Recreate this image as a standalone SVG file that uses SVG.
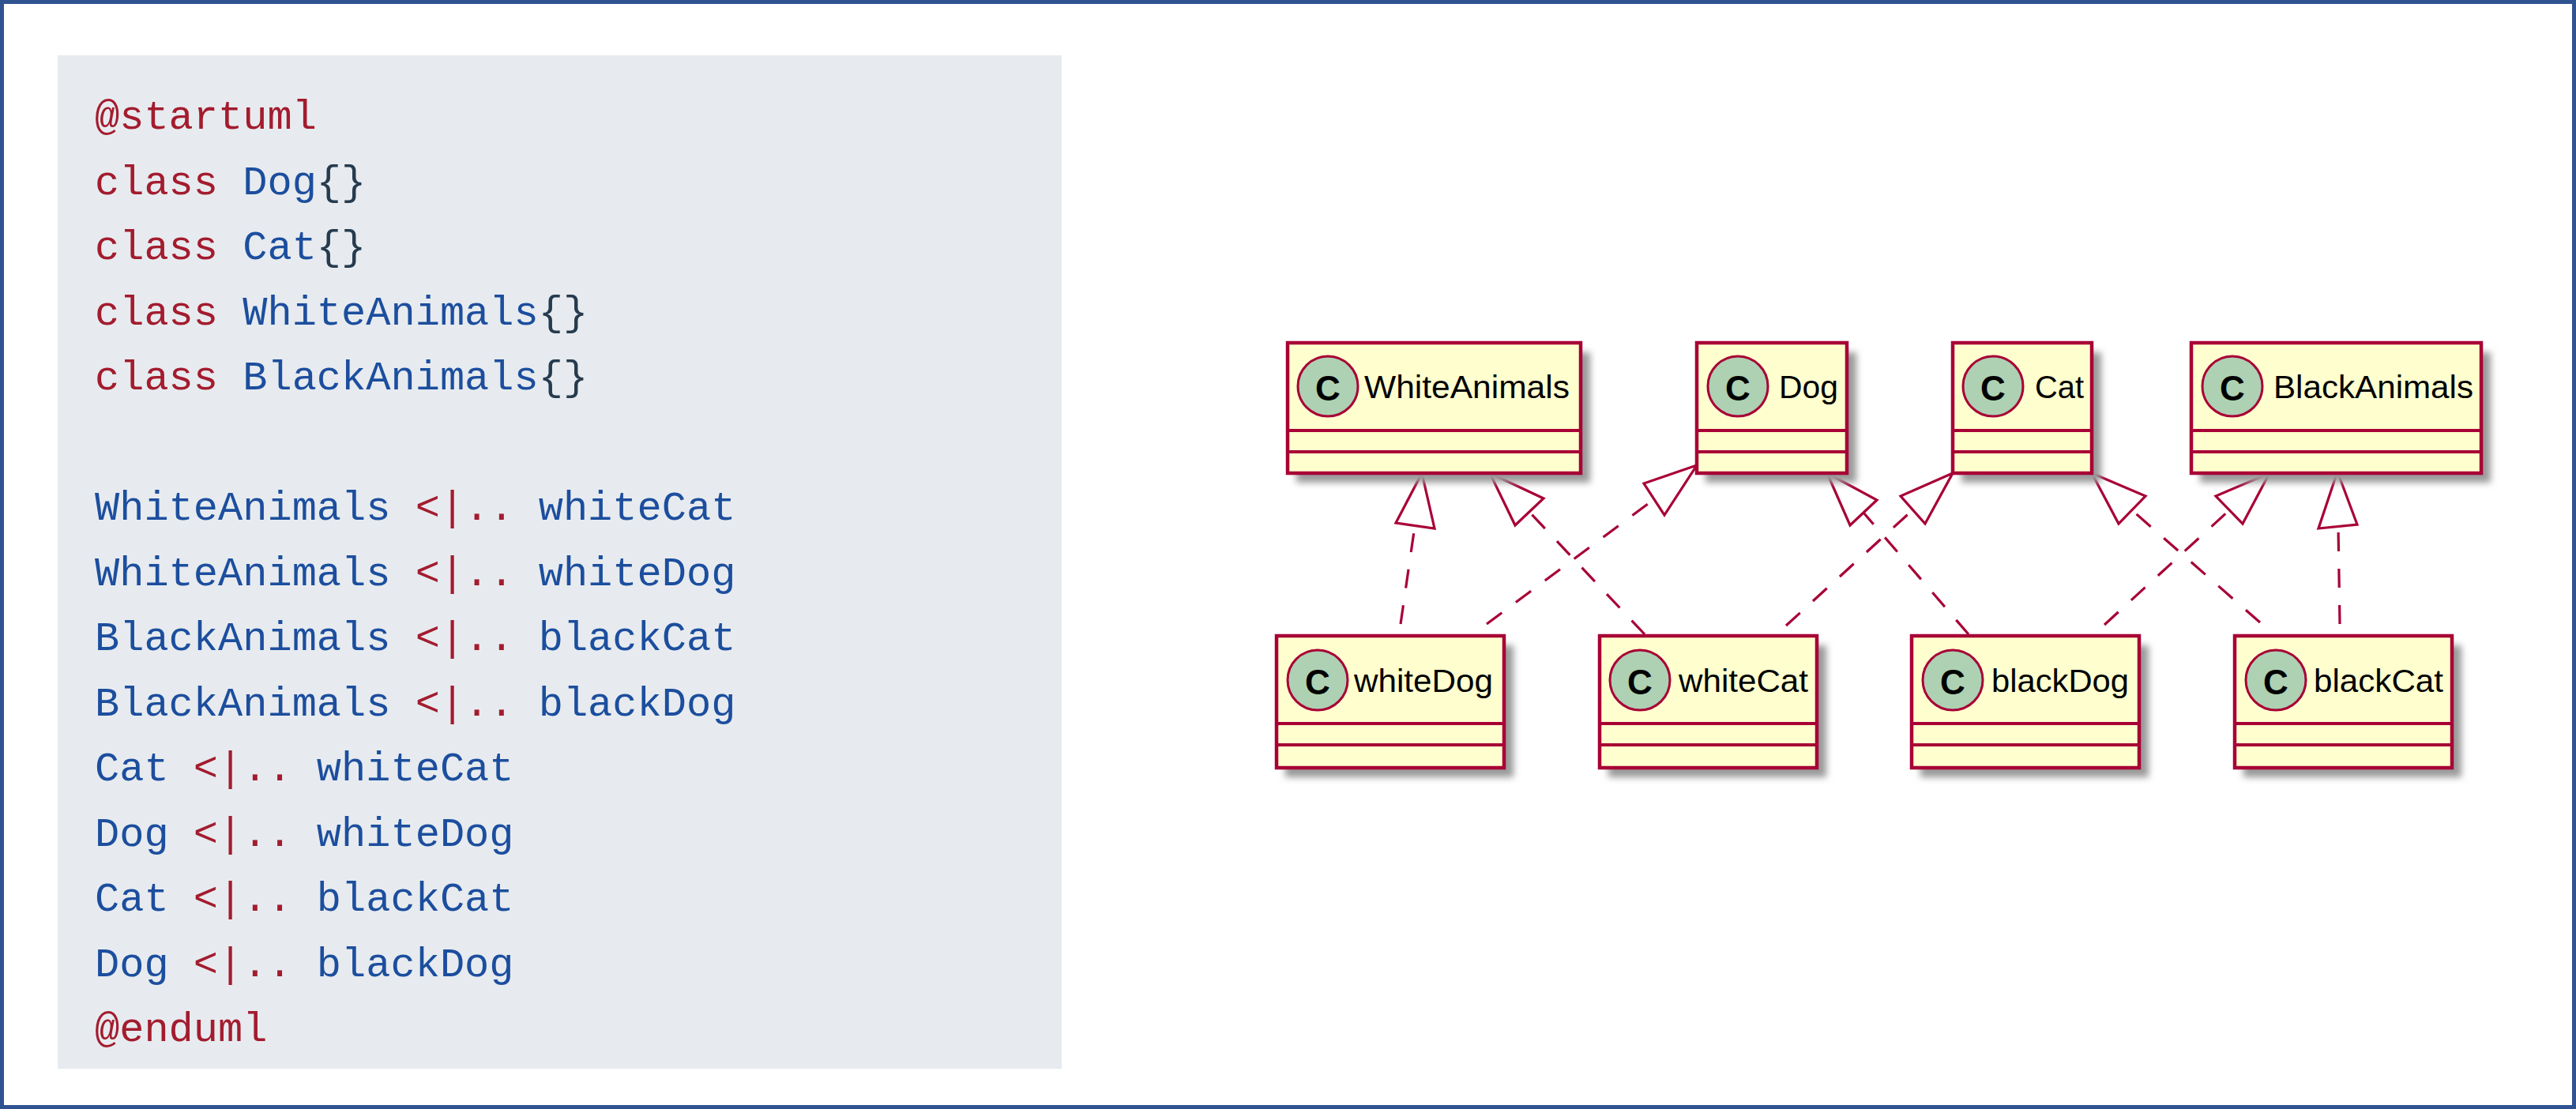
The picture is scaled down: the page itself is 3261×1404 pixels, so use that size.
<svg xmlns="http://www.w3.org/2000/svg" width="3261" height="1404" viewBox="0 0 3261 1404">
<style>
.code{font-family:"Liberation Mono",monospace;font-size:52px;white-space:pre}
.k{fill:#A31C2E}.n{fill:#1C4E9E}.p{fill:#263B4E}
.box{fill:#FEFECE;stroke:#A80036;stroke-width:4.5}
.div{stroke:#A80036;stroke-width:4}
.sh{fill:#9A9A9A;filter:url(#blur)}
.circ{fill:#ADD1B2;stroke:#A80036;stroke-width:3}
.c{font-family:"Liberation Sans",sans-serif;font-weight:bold;font-size:44px;text-anchor:middle;fill:#000}
.lab{font-family:"Liberation Sans",sans-serif;font-size:40px;fill:#000}
.dash{stroke:#A80036;stroke-width:3.2;stroke-dasharray:24 22;fill:none}
.head{fill:#fff;stroke:#A80036;stroke-width:3.2;stroke-linejoin:miter}
</style>
<defs><filter id="blur" x="-20%" y="-20%" width="140%" height="140%"><feGaussianBlur stdDeviation="4"/></filter></defs>
<rect x="2.5" y="2.5" width="3256" height="1399" fill="#fff" stroke="#2F5390" stroke-width="5"/>
<rect x="73" y="70" width="1271" height="1283" fill="#E7EBEF"/>
<g id="code">
<text class="code" x="120" y="163"><tspan class="k">@startuml</tspan></text>
<text class="code" x="120" y="246"><tspan class="k">class </tspan><tspan class="n">Dog</tspan><tspan class="p">{}</tspan></text>
<text class="code" x="120" y="328"><tspan class="k">class </tspan><tspan class="n">Cat</tspan><tspan class="p">{}</tspan></text>
<text class="code" x="120" y="411"><tspan class="k">class </tspan><tspan class="n">WhiteAnimals</tspan><tspan class="p">{}</tspan></text>
<text class="code" x="120" y="493"><tspan class="k">class </tspan><tspan class="n">BlackAnimals</tspan><tspan class="p">{}</tspan></text>
<text class="code" x="120" y="658"><tspan class="n">WhiteAnimals </tspan><tspan class="k">&lt;|.. </tspan><tspan class="n">whiteCat</tspan></text>
<text class="code" x="120" y="741"><tspan class="n">WhiteAnimals </tspan><tspan class="k">&lt;|.. </tspan><tspan class="n">whiteDog</tspan></text>
<text class="code" x="120" y="823"><tspan class="n">BlackAnimals </tspan><tspan class="k">&lt;|.. </tspan><tspan class="n">blackCat</tspan></text>
<text class="code" x="120" y="906"><tspan class="n">BlackAnimals </tspan><tspan class="k">&lt;|.. </tspan><tspan class="n">blackDog</tspan></text>
<text class="code" x="120" y="988"><tspan class="n">Cat </tspan><tspan class="k">&lt;|.. </tspan><tspan class="n">whiteCat</tspan></text>
<text class="code" x="120" y="1071"><tspan class="n">Dog </tspan><tspan class="k">&lt;|.. </tspan><tspan class="n">whiteDog</tspan></text>
<text class="code" x="120" y="1153"><tspan class="n">Cat </tspan><tspan class="k">&lt;|.. </tspan><tspan class="n">blackCat</tspan></text>
<text class="code" x="120" y="1236"><tspan class="n">Dog </tspan><tspan class="k">&lt;|.. </tspan><tspan class="n">blackDog</tspan></text>
<text class="code" x="120" y="1318"><tspan class="k">@enduml</tspan></text>
</g>
<g id="connectors">
<line class="dash" x1="1773" y1="790" x2="1791" y2="666"/><polygon class="head" points="1800,599 1767,662 1816,669"/>
<line class="dash" x1="2082" y1="803" x2="1936" y2="648"/><polygon class="head" points="1886,599 1954,631 1918,665"/>
<line class="dash" x1="1882" y1="790" x2="2094" y2="632"/><polygon class="head" points="2148,589 2081,612 2107,652"/>
<line class="dash" x1="2492" y1="803" x2="2359" y2="649"/><polygon class="head" points="2313,599 2376,633 2342,665"/>
<line class="dash" x1="2261" y1="792" x2="2422" y2="645"/><polygon class="head" points="2472,599 2406,628 2437,663"/>
<line class="dash" x1="2861" y1="788" x2="2699" y2="646"/><polygon class="head" points="2648,599 2716,628 2682,663"/>
<line class="dash" x1="2664" y1="791" x2="2822" y2="646"/><polygon class="head" points="2873,599 2805,628 2839,663"/>
<line class="dash" x1="2962" y1="790" x2="2960" y2="666"/><polygon class="head" points="2959,597 2935,669 2984,664"/>
</g>
<g id="node-WhiteAnimals"><rect class="sh" x="1641" y="446" width="372" height="165"/><rect class="box" x="1630" y="434" width="371" height="165"/><line class="div" x1="1630" y1="545" x2="2001" y2="545"/><line class="div" x1="1630" y1="572" x2="2001" y2="572"/><ellipse class="circ" cx="1681" cy="489" rx="38" ry="38"/><text class="c" x="1681" y="507">C</text><text class="lab" x="1727" y="504" textLength="260" lengthAdjust="spacingAndGlyphs">WhiteAnimals</text></g>
<g id="node-Dog"><rect class="sh" x="2159" y="446" width="191" height="165"/><rect class="box" x="2148" y="434" width="190" height="165"/><line class="div" x1="2148" y1="545" x2="2338" y2="545"/><line class="div" x1="2148" y1="572" x2="2338" y2="572"/><ellipse class="circ" cx="2200" cy="489" rx="38" ry="38"/><text class="c" x="2200" y="507">C</text><text class="lab" x="2252" y="504" textLength="75" lengthAdjust="spacingAndGlyphs">Dog</text></g>
<g id="node-Cat"><rect class="sh" x="2483" y="446" width="177" height="165"/><rect class="box" x="2472" y="434" width="176" height="165"/><line class="div" x1="2472" y1="545" x2="2648" y2="545"/><line class="div" x1="2472" y1="572" x2="2648" y2="572"/><ellipse class="circ" cx="2523" cy="489" rx="38" ry="38"/><text class="c" x="2523" y="507">C</text><text class="lab" x="2576" y="504" textLength="62" lengthAdjust="spacingAndGlyphs">Cat</text></g>
<g id="node-BlackAnimals"><rect class="sh" x="2785" y="446" width="368" height="165"/><rect class="box" x="2774" y="434" width="367" height="165"/><line class="div" x1="2774" y1="545" x2="3141" y2="545"/><line class="div" x1="2774" y1="572" x2="3141" y2="572"/><ellipse class="circ" cx="2826" cy="489" rx="38" ry="38"/><text class="c" x="2826" y="507">C</text><text class="lab" x="2878" y="504" textLength="253" lengthAdjust="spacingAndGlyphs">BlackAnimals</text></g>
<g id="node-whiteDog"><rect class="sh" x="1627" y="817" width="289" height="167"/><rect class="box" x="1616" y="805" width="288" height="167"/><line class="div" x1="1616" y1="916" x2="1904" y2="916"/><line class="div" x1="1616" y1="943" x2="1904" y2="943"/><ellipse class="circ" cx="1668" cy="861" rx="38" ry="38"/><text class="c" x="1668" y="879">C</text><text class="lab" x="1714" y="876" textLength="176" lengthAdjust="spacingAndGlyphs">whiteDog</text></g>
<g id="node-whiteCat"><rect class="sh" x="2036" y="817" width="276" height="167"/><rect class="box" x="2025" y="805" width="275" height="167"/><line class="div" x1="2025" y1="916" x2="2300" y2="916"/><line class="div" x1="2025" y1="943" x2="2300" y2="943"/><ellipse class="circ" cx="2076" cy="861" rx="38" ry="38"/><text class="c" x="2076" y="879">C</text><text class="lab" x="2125" y="876" textLength="164" lengthAdjust="spacingAndGlyphs">whiteCat</text></g>
<g id="node-blackDog"><rect class="sh" x="2431" y="817" width="289" height="167"/><rect class="box" x="2420" y="805" width="288" height="167"/><line class="div" x1="2420" y1="916" x2="2708" y2="916"/><line class="div" x1="2420" y1="943" x2="2708" y2="943"/><ellipse class="circ" cx="2472" cy="861" rx="38" ry="38"/><text class="c" x="2472" y="879">C</text><text class="lab" x="2521" y="876" textLength="174" lengthAdjust="spacingAndGlyphs">blackDog</text></g>
<g id="node-blackCat"><rect class="sh" x="2840" y="817" width="276" height="167"/><rect class="box" x="2829" y="805" width="275" height="167"/><line class="div" x1="2829" y1="916" x2="3104" y2="916"/><line class="div" x1="2829" y1="943" x2="3104" y2="943"/><ellipse class="circ" cx="2881" cy="861" rx="38" ry="38"/><text class="c" x="2881" y="879">C</text><text class="lab" x="2929" y="876" textLength="164" lengthAdjust="spacingAndGlyphs">blackCat</text></g>
</svg>
